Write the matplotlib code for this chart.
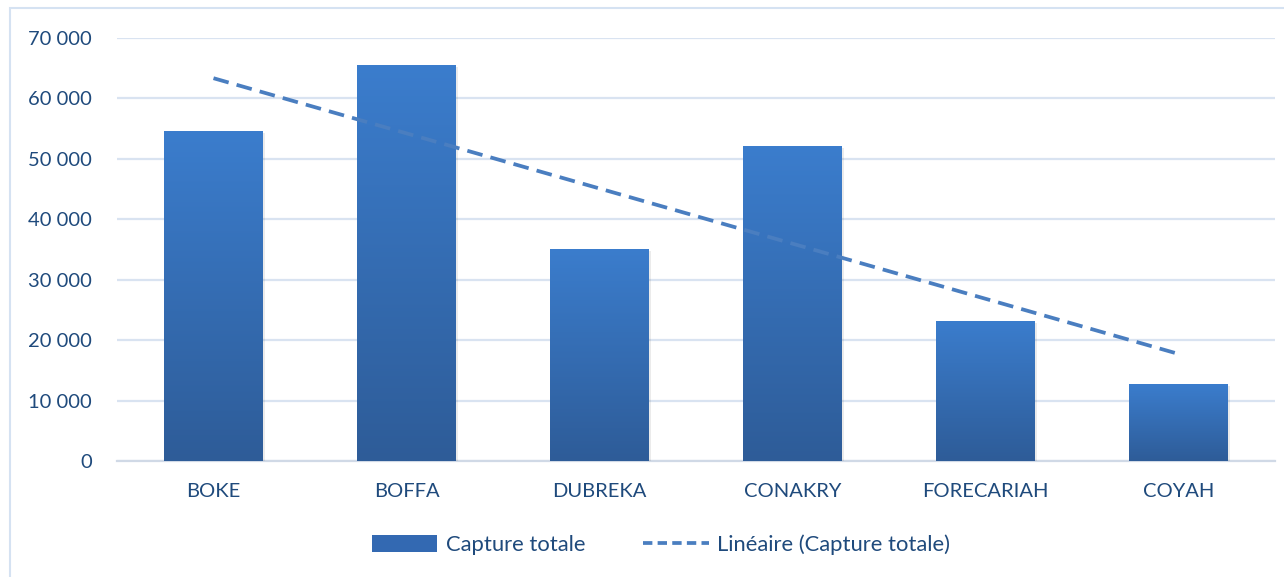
import matplotlib
matplotlib.use("Agg")
import matplotlib.pyplot as plt
import numpy as np
from matplotlib.patches import Rectangle, Patch
from matplotlib.lines import Line2D
from matplotlib.colors import LinearSegmentedColormap

categories = ["BOKE", "BOFFA", "DUBREKA", "CONAKRY", "FORECARIAH", "COYAH"]
capture_totale = [54600, 65500, 35100, 52100, 23200, 12700]
yticks = [0, 10000, 20000, 30000, 40000, 50000, 60000, 70000]
ytick_labels = ["0", "10 000", "20 000", "30 000", "40 000", "50 000", "60 000", "70 000"]

plt.rcParams['font.family'] = ['Lato', 'DejaVu Sans']
text_color = "#1F4A7C"
grid_color = "#D9E3F1"

fig = plt.figure(figsize=(12.84, 5.77), dpi=100)
fig.patches.append(Rectangle((10/1284, -0.05), 1.1, 1 - 8/577 + 0.05, transform=fig.transFigure,
                             fill=False, edgecolor="#D5E2F2", linewidth=1.5, zorder=0))
ax = fig.add_axes([117/1284, 1 - 461/577, (1275 - 117)/1284, (461 - 38)/577])

x = np.arange(len(categories))
cmap = LinearSegmentedColormap.from_list("g", ["#2E5C98", "#3B7DCD"])
grad = np.linspace(0, 1, 256).reshape(-1, 1)
bars = ax.bar(x, capture_totale, width=0.51, facecolor="none", edgecolor="none", zorder=3)
for b in bars:
    bx, by = b.get_x(), b.get_y()
    w, h = b.get_width(), b.get_height()
    # soft shadow
    ax.add_patch(Rectangle((bx + 0.01, by - 350), w, h, facecolor="#000000", alpha=0.08,
                           edgecolor="none", zorder=2))
    im = ax.imshow(grad, extent=(bx, bx + w, by, by + h), origin="lower", cmap=cmap,
                   aspect="auto", zorder=3)
    im.set_clip_path(b)

# linear trend
coef = np.polyfit(x, capture_totale, 1)
trend = np.polyval(coef, x)
ax.plot(x, trend, linestyle=(0, (4.2, 2.2)), color="#4A7EC0", linewidth=2.7, zorder=4)

ax.set_xlim(-0.5, len(categories) - 0.5)
ax.set_ylim(0, 70000)
ax.set_yticks(yticks)
ax.set_yticklabels(ytick_labels)
ax.set_xticks(x)
ax.set_xticklabels(categories)
ax.tick_params(axis="both", length=0, labelsize=14.5, colors=text_color)
ax.tick_params(axis="y", pad=18)
ax.tick_params(axis="x", pad=16)
ax.grid(axis="y", color=grid_color, linewidth=1.6, zorder=0)
ax.set_axisbelow(True)
for s in ["top", "right", "left"]:
    ax.spines[s].set_visible(False)
ax.spines["bottom"].set_color("#D0D9E6")
ax.spines["bottom"].set_linewidth(1.6)
ax.spines["bottom"].set_zorder(1)

handles = [Patch(facecolor="#3369B2", edgecolor="none"),
           Line2D([0], [0], linestyle=(0, (2.5, 1.4)), color="#4A7EC0", linewidth=2.7)]
fig.legend(handles, ["Capture totale", "Linéaire (Capture totale)"], loc="center",
           bbox_to_anchor=(661/1284, 1 - 545/577), ncol=2, frameon=False, fontsize=15.8,
           labelcolor=text_color, handlelength=3.0, handleheight=0.85, handletextpad=0.4,
           columnspacing=2.6)

fig.savefig("out.png", dpi=100)
